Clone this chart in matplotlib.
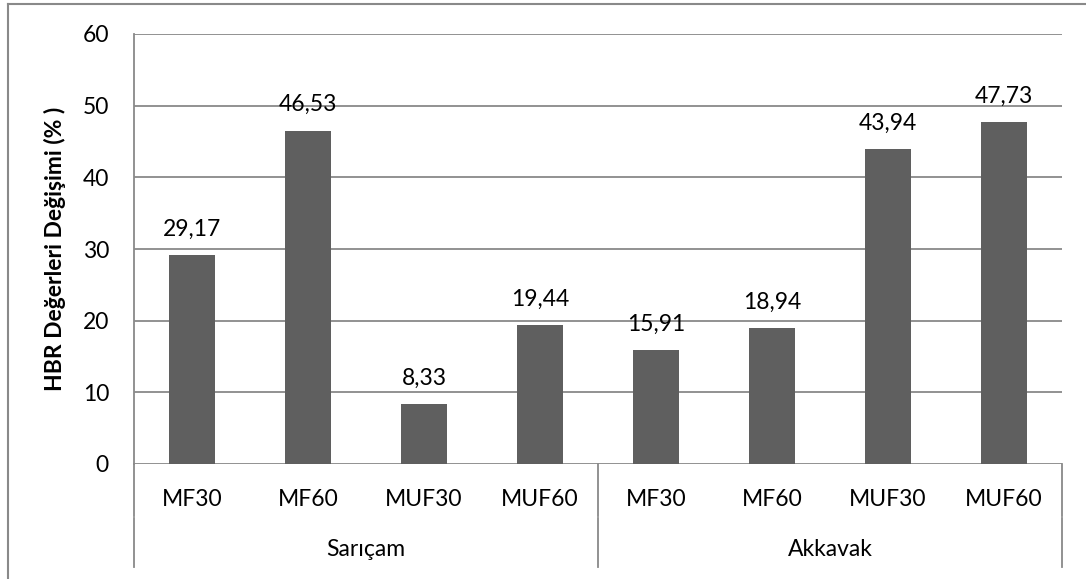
import matplotlib.pyplot as plt
from matplotlib.lines import Line2D

plt.rcParams['font.family'] = ['Lato', 'DejaVu Sans']

groups = ['Sarıçam', 'Akkavak']
treatments = ['MF30', 'MF60', 'MUF30', 'MUF60']
values = [29.17, 46.53, 8.33, 19.44, 15.91, 18.94, 43.94, 47.73]

grid_col = '#898989'
bar_col = '#5f5f5f'
fs = 16.5

fig = plt.figure(figsize=(10.86, 5.79), dpi=100)
ax = fig.add_axes([134 / 1086, 1 - 464 / 579, 928 / 1086, 430 / 579])

x = list(range(len(values)))
ax.bar(x, values, width=0.4, color=bar_col, zorder=3)

# value labels with decimal comma
for xi, v in zip(x, values):
    ax.annotate(f'{v:.2f}'.replace('.', ','), (xi, v), xytext=(0, 18.5),
                textcoords='offset points', ha='center', va='center',
                fontsize=fs, color='black')

ax.set_xlim(-0.5, len(values) - 0.5)
ax.set_ylim(0, 60)
ax.set_yticks(range(0, 61, 10))
ax.yaxis.grid(True, color=grid_col, linewidth=1.3, zorder=0)
ax.tick_params(axis='y', length=0, pad=18, labelsize=fs)
ax.set_xticks([])
for s in ['top', 'right', 'bottom']:
    ax.spines[s].set_visible(False)
ax.spines['left'].set_color(grid_col)
ax.spines['left'].set_linewidth(1.3)

ax.set_ylabel('HBR Değerleri Değişimi (% )', fontsize=16.5, fontweight='bold',
               labelpad=12)

# two-tier category axis below the plot
tr = ax.get_xaxis_transform()
y_mid = -51 / 430
y_end = -103 / 430
for xi, name in enumerate(treatments * 2):
    ax.text(xi, -35 / 430, name, transform=tr, ha='center', va='center',
            fontsize=fs)
for gi, g in enumerate(groups):
    ax.text(gi * 4 + 1.5, -85 / 430, g, transform=tr, ha='center',
            va='center', fontsize=fs)
for xb in [-0.5, 3.5, 7.5]:
    ax.plot([xb, xb], [0, y_mid - 0.002], transform=tr, color=grid_col,
            lw=1.3, clip_on=False)
    ax.plot([xb, xb], [y_mid - 0.002 - 0.004, y_end], transform=tr,
            color=grid_col, lw=1.3, clip_on=False)

# chart border
fig.add_artist(Line2D([8 / 1086, 1], [1 - 4 / 579, 1 - 4 / 579],
                      color=grid_col, lw=1.5))
fig.add_artist(Line2D([8 / 1086, 8 / 1086], [0, 1 - 4 / 579],
                      color=grid_col, lw=1.5))

fig.savefig('out.png', dpi=100)
